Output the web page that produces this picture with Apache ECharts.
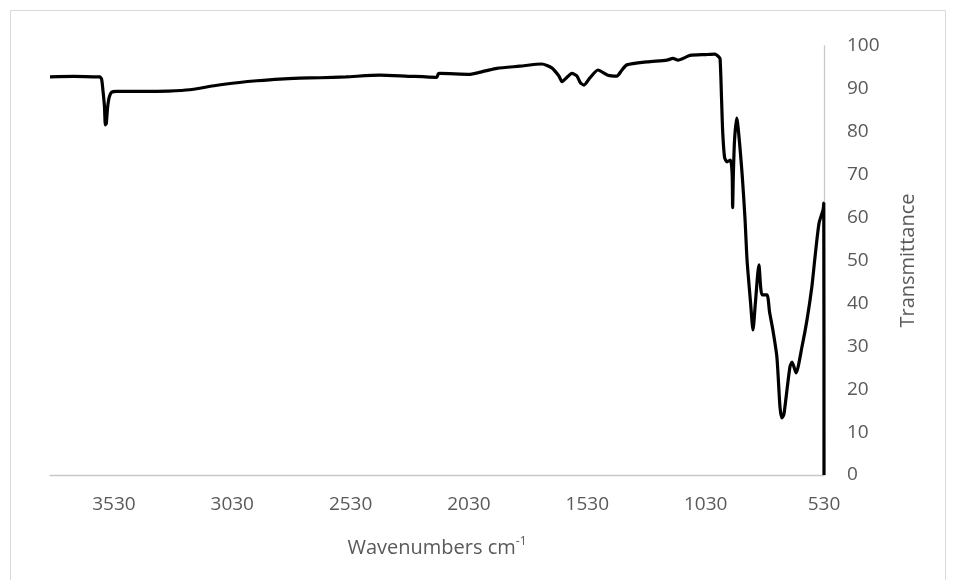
<!DOCTYPE html>
<html>
<head>
<meta charset="utf-8">
<script src="https://cdn.jsdelivr.net/npm/echarts@6/dist/echarts.min.js"></script>
<style>
  html, body { margin: 0; padding: 0; background: #ffffff; }
  #chart { width: 956px; height: 580px; }
</style>
</head>
<body>
<div id="chart"></div>
<script>
// FTIR spectrum: wavenumber (cm-1) and transmittance (%)
const wavenumbers = [
  3800, 3700, 3600, 3590, 3582, 3576, 3570, 3566, 3562, 3557, 3550, 3540, 3520,
  3400, 3300, 3210, 3100, 3000, 2926, 2829, 2745, 2660, 2550, 2407, 2300, 2166,
  2160, 2153, 2026, 1960, 1912, 1815, 1722, 1680, 1650, 1637, 1620, 1595, 1574,
  1560, 1544, 1520, 1485, 1443, 1405, 1385, 1363, 1278, 1194, 1168, 1147, 1096,
  1030, 991, 975, 969, 963, 958, 950, 940, 925, 918, 916, 913, 908, 899,
  880, 864, 855, 840, 830, 820, 805, 792, 771, 760, 746, 729, 716, 708,
  700, 695, 674, 665, 648, 623, 602, 581, 568, 551, 534, 531, 530
];
const transmittance = [
  92.8, 92.9, 92.8, 92.8, 92.3, 89.5, 86.0, 81.6, 82.0, 85.5, 88.0, 89.2, 89.4,
  89.4, 89.5, 89.8, 90.8, 91.5, 91.9, 92.3, 92.5, 92.6, 92.8, 93.2, 93.0, 92.7,
  93.5, 93.6, 93.4, 94.2, 94.8, 95.3, 95.8, 94.9, 93.0, 91.7, 92.5, 93.6, 93.0,
  91.5, 90.9, 92.5, 94.4, 93.2, 93.0, 94.3, 95.6, 96.3, 96.7, 97.1, 96.7, 97.8,
  98.0, 98.1, 97.5, 97.0, 88.0, 80.0, 74.0, 73.0, 73.4, 70.0, 62.3, 70.0, 78.0, 83.2,
  73.0, 60.0, 50.0, 40.0, 33.8, 40.0, 49.0, 42.0, 42.0, 38.0, 33.8, 27.5, 15.9, 13.3,
  14.0, 15.9, 25.2, 26.3, 23.8, 29.9, 36.1, 44.0, 50.8, 58.7, 61.8, 63.4, 0
];
const xTickLabels = [3530, 3030, 2530, 2030, 1530, 1030, 530];

const seriesData = wavenumbers.map((w, i) => [w, transmittance[i]]);

const labelFont = '"Open Sans", "Noto Sans", sans-serif';
const textColor = '#595959';
const axisGray = '#c8c8c8';

const chart = echarts.init(document.getElementById('chart'), null, { renderer: 'canvas' });

chart.setOption({
  backgroundColor: '#ffffff',
  animation: false,
  grid: { left: 50, right: 132, top: 46, bottom: 105, containLabel: false },
  graphic: [{
    type: 'rect',
    shape: { x: 10.5, y: 10.5, width: 935, height: 600 },
    style: { fill: 'none', stroke: '#d9d9d9', lineWidth: 1 },
    silent: true
  }],
  xAxis: {
    type: 'value',
    inverse: true,
    min: 530,
    max: 3800,
    splitLine: { show: false },
    axisLine: { show: true, onZero: false, lineStyle: { color: axisGray, width: 1.3 } },
    axisTick: { show: false, customValues: xTickLabels },
    axisLabel: {
      customValues: xTickLabels,
      formatter: (v) => String(v),
      color: textColor,
      fontFamily: labelFont,
      fontSize: 19,
      margin: 20
    },
    name: '{a|Wavenumbers cm}{b|-1}',
    nameLocation: 'middle',
    nameGap: 61,
    nameTextStyle: {
      rich: {
        a: { color: textColor, fontFamily: labelFont, fontSize: 20 },
        b: { color: textColor, fontFamily: labelFont, fontSize: 12, padding: [0, 0, 12, 0] }
      }
    }
  },
  yAxis: {
    type: 'value',
    position: 'right',
    min: 0,
    max: 100,
    interval: 10,
    splitLine: { show: false },
    axisLine: { show: true, onZero: false, lineStyle: { color: axisGray, width: 1.3 } },
    axisTick: { show: false },
    axisLabel: {
      color: textColor,
      fontFamily: labelFont,
      fontSize: 19,
      margin: 23
    },
    name: 'Transmittance',
    nameLocation: 'middle',
    nameRotate: 90,
    nameGap: 74,
    nameTextStyle: { color: textColor, fontFamily: labelFont, fontSize: 20 }
  },
  series: [{
    type: 'line',
    data: seriesData,
    showSymbol: false,
    smooth: 0.22,
    lineStyle: { color: '#000000', width: 3.2 },
    clip: false
  }]
});
</script>
</body>
</html>
